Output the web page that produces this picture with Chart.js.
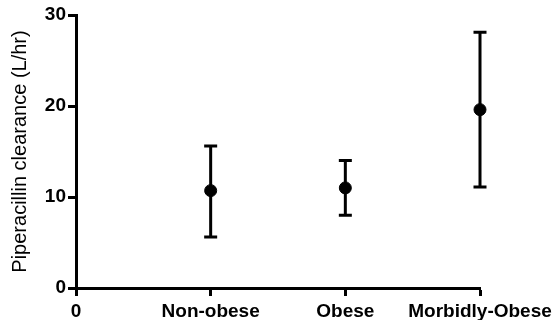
<!DOCTYPE html>
<html>
<head>
<meta charset="utf-8">
<script src="https://cdn.jsdelivr.net/npm/chart.js@4"></script>
<style>
  html, body { margin: 0; padding: 0; background: #fff; }
  #wrap { width: 558px; height: 320px; }
</style>
</head>
<body>
<div id="wrap"><canvas id="c" width="558" height="320"></canvas></div>
<script>
// Piperacillin clearance by body-weight group: mean with error range
const xTickLabels = ['0', 'Non-obese', 'Obese', 'Morbidly-Obese'];
const groupPos = [1, 2, 3];
const meanClearance = [10.7, 11.0, 19.6];
const lowerBar = [5.6, 8.0, 11.1];
const upperBar = [15.6, 14.0, 28.1];
const yTicks = [0, 10, 20, 30];

const FONT = "'Liberation Sans', Arial, Helvetica, sans-serif";

// Vertical whiskers with caps, drawn under the mean markers
const errorBars = {
  id: 'errorBars',
  beforeDatasetsDraw(chart) {
    const { ctx, scales: { x, y } } = chart;
    ctx.save();
    ctx.strokeStyle = '#000';
    ctx.lineWidth = 3;
    ctx.lineCap = 'butt';
    const capHalf = 6.5;
    groupPos.forEach((g, i) => {
      const px = x.getPixelForValue(g);
      const top = y.getPixelForValue(upperBar[i]);
      const bot = y.getPixelForValue(lowerBar[i]);
      ctx.beginPath();
      ctx.moveTo(px, top);
      ctx.lineTo(px, bot);
      ctx.moveTo(px - capHalf, top);
      ctx.lineTo(px + capHalf, top);
      ctx.moveTo(px - capHalf, bot);
      ctx.lineTo(px + capHalf, bot);
      ctx.stroke();
    });
    ctx.restore();
  }
};

new Chart(document.getElementById('c'), {
  type: 'scatter',
  data: {
    datasets: [{
      data: groupPos.map((g, i) => ({ x: g, y: meanClearance[i] })),
      backgroundColor: '#000',
      borderColor: '#000',
      pointRadius: 6,
      pointHoverRadius: 6,
      clip: false
    }]
  },
  options: {
    responsive: false,
    animation: false,
    layout: { padding: { top: 15, right: 78, left: 0, bottom: 0 } },
    plugins: { legend: { display: false }, tooltip: { enabled: false } },
    scales: {
      x: {
        type: 'linear',
        min: 0,
        max: 3,
        afterBuildTicks(scale) {
          scale.ticks = xTickLabels.map((_, i) => ({ value: i }));
        },
        afterFit(scale) { scale.height = 32; },
        ticks: {
          autoSkip: false,
          maxRotation: 0,
          padding: 4,
          color: '#000',
          font: { family: FONT, size: 19, weight: 'bold' },
          callback: (v) => xTickLabels[v]
        },
        grid: { drawOnChartArea: false, tickLength: 8, tickWidth: 3, color: '#000' },
        border: { color: '#000', width: 3 }
      },
      y: {
        min: 0,
        max: 30,
        afterBuildTicks(scale) {
          scale.ticks = yTicks.map(v => ({ value: v }));
        },
        afterFit(scale) { scale.width = 76; },
        ticks: {
          padding: 2,
          color: '#000',
          font: { family: FONT, size: 19, weight: 'bold' }
        },
        grid: { drawOnChartArea: false, tickLength: 8, tickWidth: 3, color: '#000' },
        border: { color: '#000', width: 3 },
        title: {
          display: true,
          text: 'Piperacillin clearance (L/hr)',
          color: '#000',
          font: { family: FONT, size: 20 },
          padding: { top: 8, bottom: 0 }
        }
      }
    }
  },
  plugins: [errorBars]
});
</script>
</body>
</html>
